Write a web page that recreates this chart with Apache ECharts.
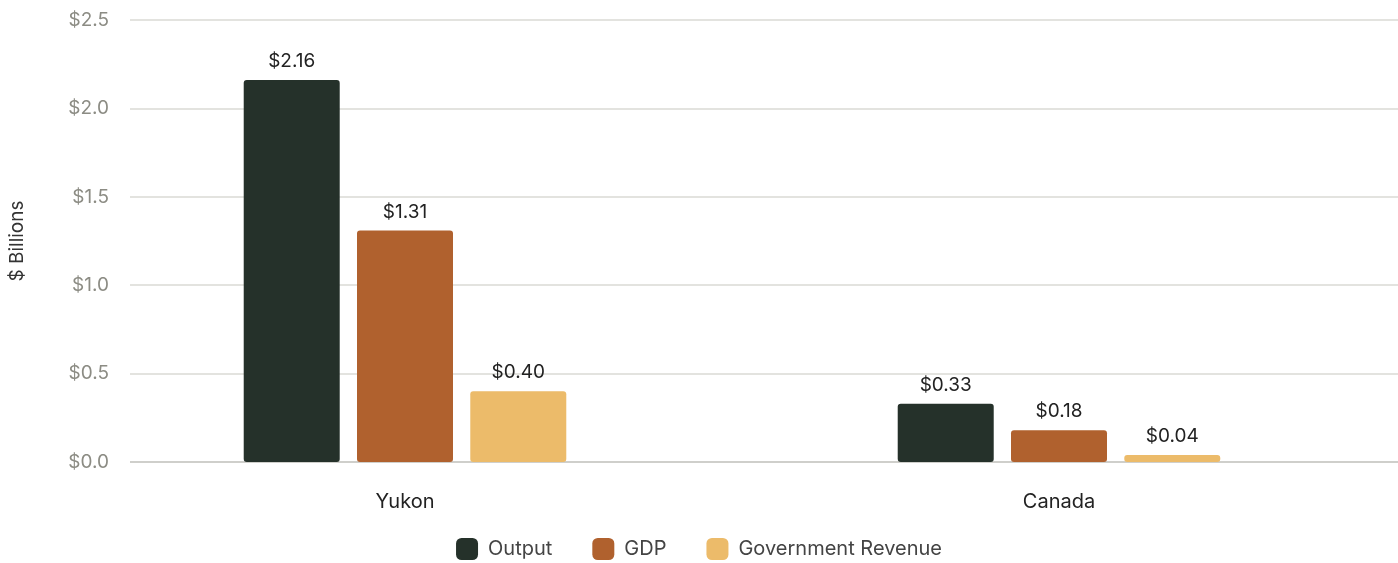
<!DOCTYPE html>
<html>
<head>
<meta charset="utf-8">
<script src="https://cdn.jsdelivr.net/npm/echarts@6/dist/echarts.min.js"></script>
<style>
  html, body { margin: 0; padding: 0; background: #fff; }
  #chart { width: 1398px; height: 563px; }
</style>
</head>
<body>
<div id="chart"></div>
<script>
const regions = ['Yukon', 'Canada']
const outputVals = [2.16, 0.33]
const gdpVals = [1.31, 0.18]
const revenueVals = [0.40, 0.04]
const seriesNames = ['Output', 'GDP', 'Government Revenue']
const seriesColors = ['#25312a', '#b0612e', '#ecbb6a']

const font = 'Inter, "Noto Sans", sans-serif'
const yMin = 0
const yMax = 2.5
const yStep = 0.5

function barSeries(i, vals) {
  return {
    name: seriesNames[i],
    type: 'bar',
    xAxisIndex: 0,
    yAxisIndex: 0,
    barWidth: 96,
    barGap: '18%',
    itemStyle: { color: seriesColors[i], borderRadius: 3 },
    label: {
      show: true,
      position: 'top',
      distance: 9,
      color: '#222',
      fontSize: 19,
      fontFamily: font,
      formatter: (p) => '$' + p.value.toFixed(2),
    },
    data: vals,
  }
}

const chart = echarts.init(document.getElementById('chart'), null, { renderer: 'canvas' })
chart.setOption({
  animation: false,
  textStyle: { fontFamily: font },
  grid: [
    // bars
    { left: 78, right: 12, top: 20, bottom: 101 },
    // split lines + y labels
    { left: 123, right: 0, top: 20, bottom: 101 },
  ],
  legend: {
    top: 538,
    left: 'center',
    padding: 0,
    itemWidth: 22,
    itemHeight: 22,
    itemGap: 40,
    icon: 'roundRect',
    textStyle: { color: '#444', fontSize: 20, fontFamily: font, padding: [0, 0, 0, 5] },
    data: seriesNames,
  },
  xAxis: [
    {
      gridIndex: 0,
      type: 'category',
      data: regions,
      axisLine: { show: false },
      axisTick: { show: false },
      axisLabel: { color: '#222', fontSize: 20, margin: 30, fontFamily: font },
    },
    {
      gridIndex: 1,
      type: 'value',
      show: false,
    },
  ],
  yAxis: [
    {
      gridIndex: 0,
      type: 'value',
      min: yMin,
      max: yMax,
      interval: yStep,
      show: false,
    },
    {
      gridIndex: 1,
      type: 'value',
      min: yMin,
      max: yMax,
      interval: yStep,
      name: '$ Billions',
      nameLocation: 'middle',
      nameGap: 103,
      nameRotate: 90,
      nameTextStyle: { color: '#333', fontSize: 19, fontFamily: font },
      axisLine: { show: false },
      axisTick: { show: false },
      axisLabel: {
        color: '#8c8c84',
        fontSize: 19,
        margin: 21,
        fontFamily: font,
        formatter: (v) => '$' + v.toFixed(1),
      },
      splitLine: {
        lineStyle: {
          color: ['#cfcfcb', '#e3e3df', '#e3e3df', '#e3e3df', '#e3e3df', '#e3e3df'],
          width: 2,
        },
      },
    },
  ],
  series: [
    barSeries(0, outputVals),
    barSeries(1, gdpVals),
    barSeries(2, revenueVals),
  ],
})
</script>
</body>
</html>
